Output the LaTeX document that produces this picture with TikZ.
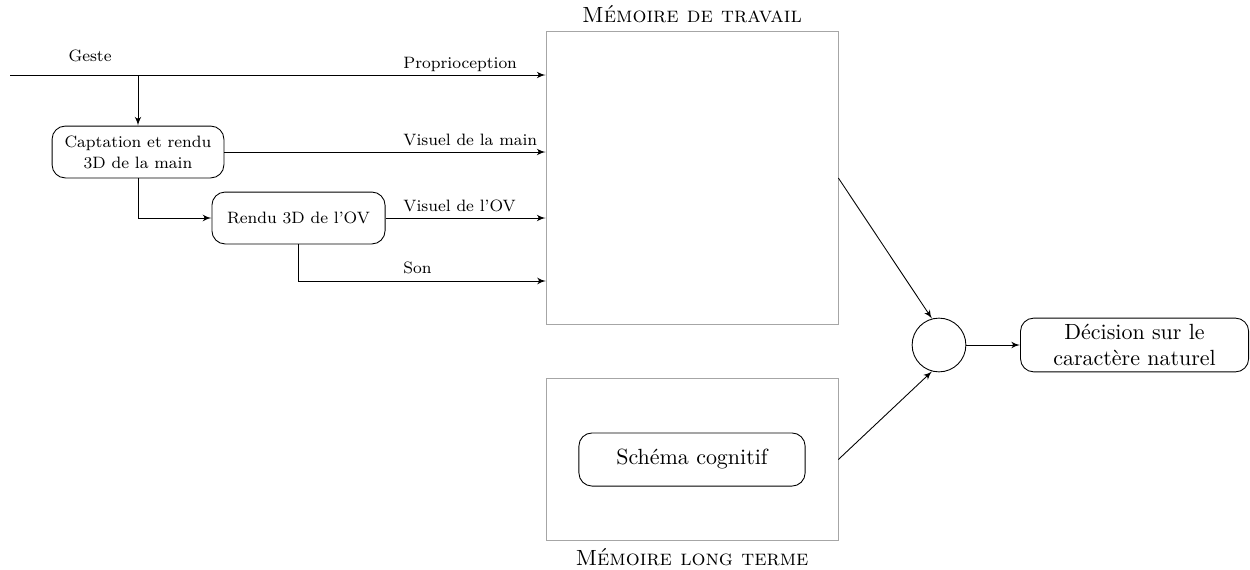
\documentclass[tikz,border=0pt]{standalone}
\usepackage{tikz}
\usetikzlibrary{positioning}
\usetikzlibrary{arrows}

\begin{document}
\begin{tikzpicture}[>=latex']
    \tikzset{block/.style= {draw, rectangle, rounded corners=6pt, align=center, inner sep=2pt},
             small/.style= {font=\fontsize{7.5}{9.5}\selectfont},
             mem/.style= {draw=black!35, rectangle, minimum width=4.67cm},
             lbl/.style= {small, anchor=base west, inner sep=0pt},}

    \useasboundingbox (0,0) rectangle (20,-9.12);

    \coordinate (in) at (0.16,-1.2);
    \node [block, small, minimum width=2.75cm, minimum height=0.83cm] (cap) at (2.208,-2.432) {Captation et rendu\\3D de la main};
    \node [block, small, minimum width=2.77cm, minimum height=0.83cm] (ren) at (4.776,-3.488) {Rendu 3D de l'OV};
    \node [mem, minimum height=4.7cm, label={[font=\scshape]above:Mémoire de travail}] (mdt) at (11.072,-2.848) {};
    \node [mem, minimum height=2.58cm, label={[font=\scshape]below:Mémoire long terme}] (mlt) at (11.072,-7.352) {};
    \node [block, minimum width=3.62cm, minimum height=0.85cm] (sch) at (mlt) {Schéma cognitif};
    \node [draw, circle, minimum size=0.86cm] (circ) at (15.024,-5.52) {};
    \node [block, minimum width=3.65cm, minimum height=0.86cm, right=0.86cm of circ] (dec) {Décision sur le\\caractère naturel};
    \coordinate (son) at (8.736,-4.496);

    \node [lbl] (geste) at (1.09,-0.99) {Geste};
    \node [lbl] (prop) at (6.448,-1.09) {Proprioception};
    \node [lbl] (vmain) at (6.448,-2.32) {Visuel de la main};
    \node [lbl] (vov) at (6.448,-3.38) {Visuel de l'OV};
    \node [lbl] (lson) at (6.448,-4.37) {Son};

    \path[->]
                (in) edge (in -| mdt.west)
                (in -| cap) edge (cap)
                (cap) edge (cap -| mdt.west)
                (ren) edge (ren -| mdt.west)
                (mdt.east) edge (circ.105)
                (mlt.east) edge (circ.255)
                (circ) edge (dec)
                ;
    \draw[->] (cap) |- (ren);
    \draw[->] (ren) |- (son);
\end{tikzpicture}
\end{document}
